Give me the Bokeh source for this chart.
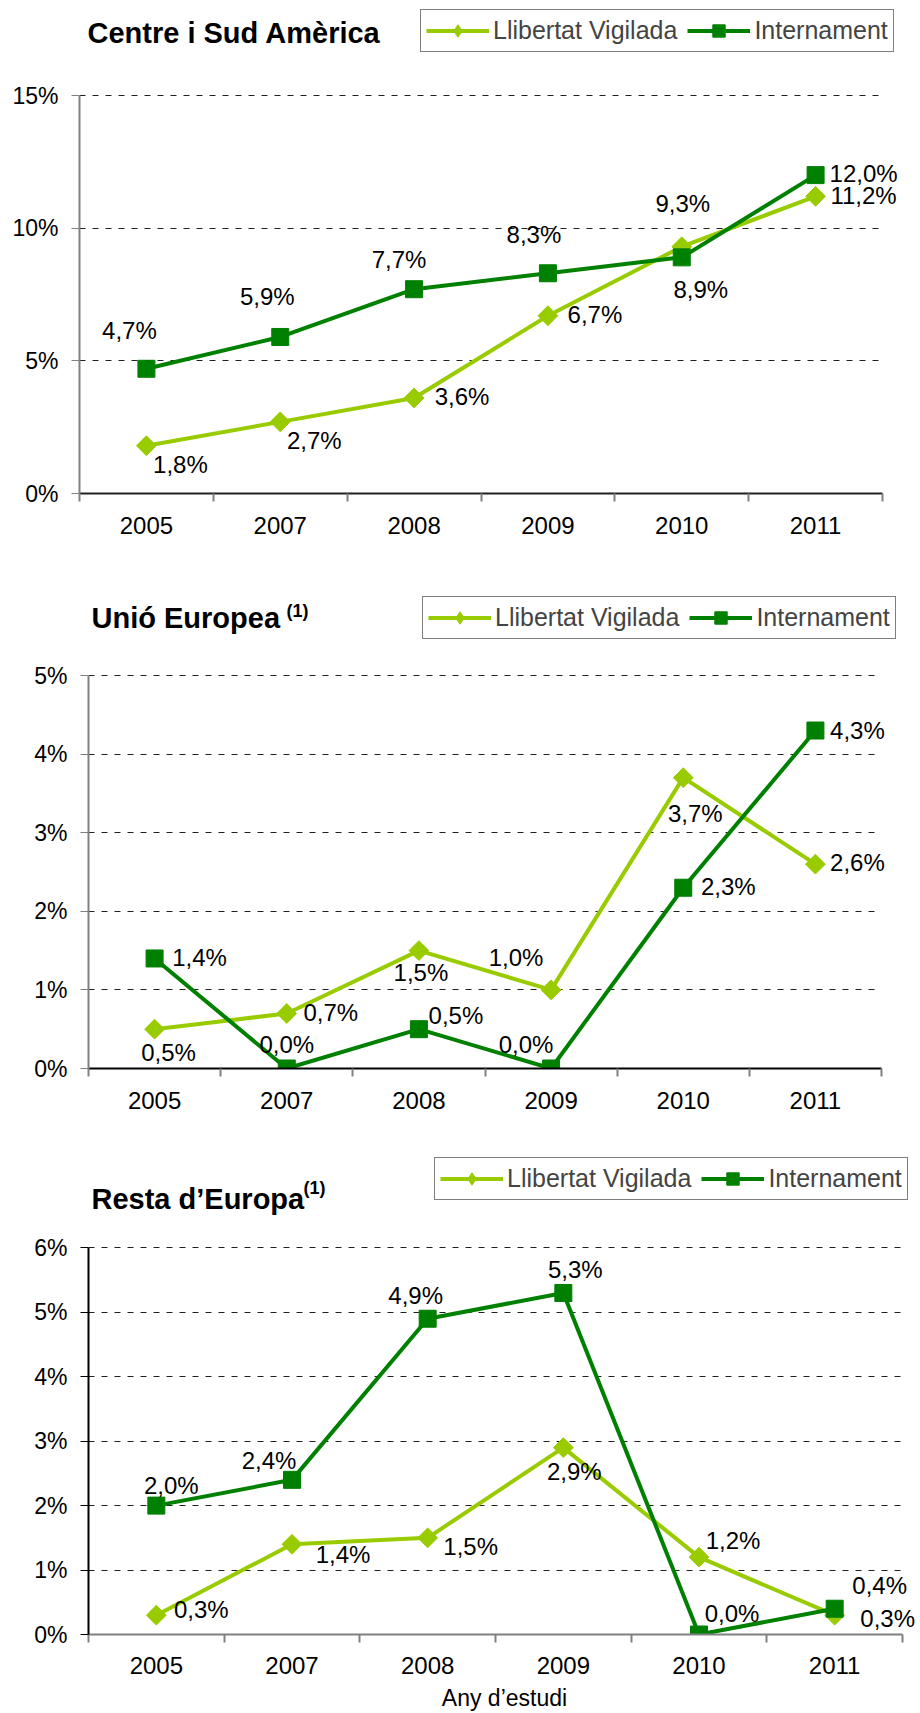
import math
from bokeh.plotting import figure
from bokeh.layouts import column
from bokeh.models import (Range1d, FixedTicker, PrintfTickFormatter, Legend, LegendItem,
                          Label, LabelSet, ColumnDataSource, Grid)
from bokeh.core.properties import value
from bokeh.embed import file_html
from bokeh.resources import INLINE

# ---------------- data ----------------
years = ["2005", "2007", "2008", "2009", "2010", "2011"]
series_names = ["Llibertat Vigilada", "Internament"]

csa_lv = [1.8, 2.7, 3.6, 6.7, 9.3, 11.2]
csa_int = [4.7, 5.9, 7.7, 8.3, 8.9, 12.0]

ue_lv = [0.5, 0.7, 1.5, 1.0, 3.7, 2.6]
ue_int = [1.4, 0.0, 0.5, 0.0, 2.3, 4.3]

re_lv = [0.3, 1.4, 1.5, 2.9, 1.2, 0.3]
re_int = [2.0, 2.4, 4.9, 5.3, 0.0, 0.4]

x_title = "Any d\u2019estudi"

# ---------------- styles ----------------
FONT = "Liberation Sans"
LV_COLOR = "#99CC00"
INT_COLOR = "#008000"

# label placements (dx, dy in screen px, dy positive = down)
csa_lv_off = [(34, 19), (34, 19), (48, -1), (47, -1), (1, -43), (48, -1)]
csa_int_off = [(-17, -38), (-13, -40), (-15, -30), (-14, -39), (19, 32), (48, -2)]
ue_lv_off = [(14, 23), (44, -1), (2, 22), (-35, -32), (12, 36), (42, -2)]
ue_int_off = [(45, -1), (0, -24), (37, -14), (-25, -24), (45, -1), (42, 0)]
re_lv_off = [(45, -6), (51, 10), (43, 9), (11, 24), (34, -17), (53, 3)]
re_int_off = [(15, -20), (-23, -19), (-12, -23), (12, -23), (33, -21), (45, -23)]

CANVAS_W = 920


def fmt(v):
    return ("%.1f" % v).replace(".", ",") + "%"


def make_chart(title, sup, lv, inn, lv_off, int_off, ymax, ystep, height,
               geom, title_pos, sup_pos, legend_pos, legend_gh, yaxis_color, xaxis_color,
               cat_standoff, xlabel=None):
    # geom: (border_left, axis_width_px, border_bottom, axis_height_px)
    bl, axis_w, bb, axis_h = geom
    frame_w = CANVAS_W - bl
    frame_h = height - bb
    n = len(years)
    cat_px = axis_w / n
    x_end = -0.5 + frame_w / cat_px
    y_end = ymax * frame_h / axis_h

    p = figure(width=CANVAS_W, height=height, output_backend="svg", toolbar_location=None,
               x_range=Range1d(-0.5, x_end), y_range=Range1d(0, y_end),
               min_border_left=bl, min_border_right=0, min_border_top=0,
               min_border_bottom=bb, title=None)
    p.frame_align = False
    p.outline_line_color = None
    p.background_fill_color = "white"
    p.border_fill_color = "white"

    xs = list(range(n))
    yticks = list(range(0, ymax + 1, ystep))

    # axes
    xa = p.xaxis[0]
    xa.bounds = (-0.5, n - 0.5)
    xa.ticker = FixedTicker(ticks=xs, minor_ticks=[i - 0.5 for i in range(n + 1)])
    xa.major_label_overrides = {i: y for i, y in enumerate(years)}
    xa.major_tick_out = 0
    xa.major_tick_in = 0
    xa.minor_tick_out = 8
    xa.minor_tick_in = 0
    xa.minor_tick_line_color = "#808080"
    xa.minor_tick_line_width = 2
    xa.axis_line_color = xaxis_color
    xa.axis_line_width = 2
    xa.major_label_text_font = FONT
    xa.major_label_text_font_size = "24px"
    xa.major_label_text_color = "black"
    xa.major_label_standoff = cat_standoff
    if xlabel:
        xa.axis_label = xlabel
        xa.axis_label_text_font = FONT
        xa.axis_label_text_font_size = "23px"
        xa.axis_label_text_font_style = "normal"
        xa.axis_label_text_color = "black"
        xa.axis_label_standoff = 8

    ya = p.yaxis[0]
    ya.bounds = (0, ymax)
    ya.ticker = FixedTicker(ticks=yticks, minor_ticks=[])
    ya.formatter = PrintfTickFormatter(format="%d%%")
    ya.major_tick_out = 8
    ya.major_tick_in = 0
    ya.minor_tick_out = 0
    ya.minor_tick_in = 0
    ya.major_tick_line_color = yaxis_color
    ya.major_tick_line_width = 1
    ya.axis_line_color = yaxis_color
    ya.axis_line_width = 2
    ya.major_label_text_font = FONT
    ya.major_label_text_font_size = "23px"
    ya.major_label_text_color = "black"
    ya.major_label_standoff = 13

    p.xgrid.visible = False
    yg = p.ygrid[0]
    yg.ticker = FixedTicker(ticks=yticks[1:])
    yg.grid_line_color = "#202020"
    yg.grid_line_dash = "6 7"
    yg.grid_line_width = 1
    if "cross_bounds" in Grid.properties():
        yg.cross_bounds = (-0.5, n - 0.5)

    # series
    l1 = p.line(xs, lv, line_color=LV_COLOR, line_width=4)
    # diamond key used by the legend (hidden under the plotted markers)
    d1 = p.scatter(xs, lv, marker="diamond", size=2,
                   fill_color=LV_COLOR, line_color=LV_COLOR)
    p.scatter(xs, lv, marker="square", angle=math.pi / 4, size=14,
              fill_color=LV_COLOR, line_color=LV_COLOR)
    l2 = p.line(xs, inn, line_color=INT_COLOR, line_width=4)
    s2 = p.scatter(xs, inn, marker="square", size=17,
                   fill_color=INT_COLOR, line_color=INT_COLOR)

    # data labels
    for vals, offs in ((lv, lv_off), (inn, int_off)):
        src = ColumnDataSource(dict(x=xs, y=vals, t=[fmt(v) for v in vals],
                                    dx=[o[0] for o in offs], dy=[-o[1] for o in offs]))
        p.add_layout(LabelSet(x="x", y="y", text="t", x_offset="dx", y_offset="dy",
                              source=src, text_align="center", text_baseline="middle",
                              text_font=value(FONT), text_font_size=value("24px"),
                              text_color="black"))

    # title
    p.add_layout(Label(x=title_pos[0], y=title_pos[1], x_units="screen", y_units="screen",
                       text=title, text_font=FONT, text_font_size="29px",
                       text_font_style="bold", text_baseline="alphabetic", text_color="black"))
    if sup:
        p.add_layout(Label(x=sup_pos[0], y=sup_pos[1], x_units="screen", y_units="screen",
                           text=sup, text_font=FONT, text_font_size="18px",
                           text_font_style="bold", text_baseline="alphabetic",
                           text_color="black"))

    legend = Legend(items=[LegendItem(label=series_names[0], renderers=[l1, d1]),
                           LegendItem(label=series_names[1], renderers=[l2, s2])],
                    orientation="horizontal", location=legend_pos,
                    label_text_font=FONT, label_text_font_size="25px",
                    glyph_width=63, glyph_height=legend_gh, padding=5, spacing=10,
                    label_standoff=4, margin=0,
                    border_line_color="black", border_line_width=1,
                    background_fill_color="white", background_fill_alpha=1)
    p.add_layout(legend)
    return p


p1 = make_chart("Centre i Sud Am\u00e8rica", None, csa_lv, csa_int, csa_lv_off, csa_int_off,
                15, 5, 575, (79, 803, 82, 398), (8, 461), None, (341, 441), 31,
                "#808080", "#202020", 15)
p2 = make_chart("Uni\u00f3 Europea", "(1)", ue_lv, ue_int, ue_lv_off, ue_int_off,
                5, 1, 565, (88, 793, 72, 393), (3, 451), (198, 458), (334, 429), 31,
                "#808080", "black", 15)
p3 = make_chart("Resta d\u2019Europa", "(1)", re_lv, re_int, re_lv_off, re_int_off,
                6, 1, 573, (88, 814, 76, 389), (3, 436), (215, 447), (346, 434), 31,
                "black", "#808080", 14, xlabel=x_title)

layout = column(p1, p2, p3, spacing=0)

open("out.html", "w").write(file_html(layout, INLINE))
